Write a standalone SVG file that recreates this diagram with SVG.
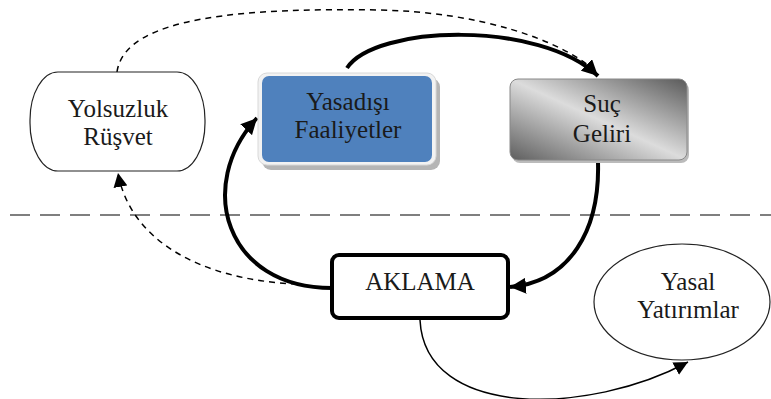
<svg xmlns="http://www.w3.org/2000/svg" width="771" height="399" viewBox="0 0 771 399">
<style>
text{font-family:'Liberation Serif','Times New Roman',serif;font-size:25px;fill:#1a1a1a;text-anchor:middle}
.thick{fill:none;stroke:#000;stroke-width:4}
.thin{fill:none;stroke:#000;stroke-width:1.5}
.dash{fill:none;stroke:#000;stroke-width:1.5;stroke-dasharray:6 5}
</style>
<defs>
<marker id="ah" markerUnits="userSpaceOnUse" markerWidth="18" markerHeight="16" refX="16" refY="8" orient="auto"><path d="M0,0 L16,8 L0,16 Z" fill="#000"/></marker>
<marker id="ahs" markerUnits="userSpaceOnUse" markerWidth="16" markerHeight="14" refX="14" refY="7" orient="auto"><path d="M0,0 L14,7 L0,14 Z" fill="#000"/></marker>
<linearGradient id="grey" x1="0" y1="1" x2="1" y2="0">
<stop offset="0" stop-color="#5e5e5e"/>
<stop offset="0.5" stop-color="#dcdcdc"/>
<stop offset="1" stop-color="#5a5a5a"/>
</linearGradient>
</defs>
<line x1="10" y1="215" x2="771" y2="215" stroke="#555" stroke-width="1.5" stroke-dasharray="20 10"/>
<g id="connectors">
<path class="dash" d="M117,72 C125,15 250,8 380,10 C480,12 560,40 594,70"/>
<path class="thick" d="M347,68 C375,25 540,20 598,76" marker-end="url(#ah)"/>
<path class="thick" d="M598,162 C600,230 570,282 510,287" marker-end="url(#ah)"/>
<path class="thick" d="M332,288 C225,288 195,185 257,118" marker-end="url(#ah)"/>
<path class="dash" d="M297,284 C200,280 130,240 118,173" marker-end="url(#ahs)"/>
<path class="thin" d="M420,320 C425,420 590,415 688,362" marker-end="url(#ahs)"/>
</g>
<g id="yolsuzluk">
<rect x="30" y="72" width="175" height="99" rx="28" ry="48" fill="#fff" stroke="#222" stroke-width="1.2"/>
<text x="118" y="117">Yolsuzluk</text>
<text x="118" y="145">Rüşvet</text>
</g>
<g id="yasadisi">
<rect x="262" y="78" width="178" height="92" rx="9" fill="#b5b5b5"/>
<rect x="258" y="73" width="178" height="92" rx="9" fill="#f2f2f2" stroke="#d8d8d8" stroke-width="1"/>
<rect x="262" y="76" width="170" height="86" rx="7" fill="#4f81bd"/>
<text x="348" y="110">Yasadışı</text>
<text x="348" y="138">Faaliyetler</text>
</g>
<g id="suc">
<rect x="512" y="82" width="177" height="81" rx="8" fill="#bbb"/>
<rect x="510" y="79" width="177" height="81" rx="8" fill="url(#grey)" stroke="#888" stroke-width="1"/>
<text x="602" y="112">Suç</text>
<text x="602" y="142">Geliri</text>
</g>
<g id="aklama">
<rect x="332" y="255" width="176" height="63" rx="7" fill="#fff" stroke="#000" stroke-width="4"/>
<text x="420" y="290">AKLAMA</text>
</g>
<g id="yasal">
<ellipse cx="682" cy="302" rx="88" ry="58" fill="#fff" stroke="#222" stroke-width="1.2"/>
<text x="688" y="290">Yasal</text>
<text x="688" y="318">Yatırımlar</text>
</g>
</svg>
